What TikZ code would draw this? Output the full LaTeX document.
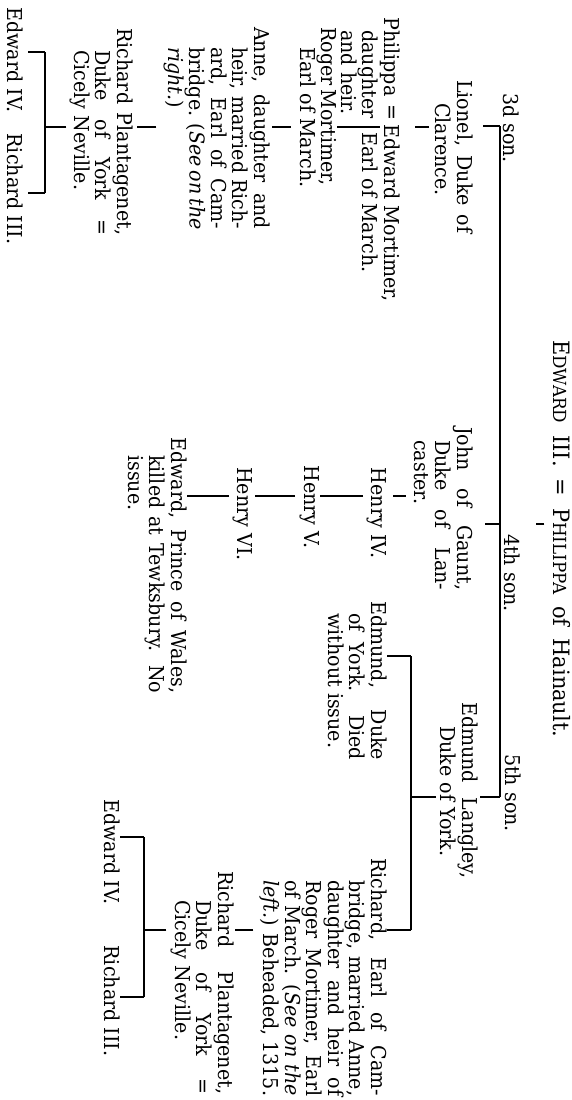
\documentclass[tikz,border=0pt]{standalone}
\usepackage{fontspec}
\setmainfont{DejaVu Serif}[FakeStretch=0.93]
\newcommand{\jline}[2]{\makebox[#1][s]{#2}}
\newcommand{\titlesc}[1]{{\fontsize{18}{18}\selectfont #1}}
\tikzset{
  tree-name/.style={rotate=-90, inner sep=0pt, font=\fontsize{20.5}{21.5}\selectfont},
  tree-block/.style={tree-name, align=left, anchor=north west},
  tree-line/.style={line width=1.1pt}
}

\begin{document}
\begin{tikzpicture}[x=1pt, y=-1pt]
  \useasboundingbox (0,0) rectangle (571,1100);

  % Edward III and his sons
  \node[tree-name, anchor=base west, font=\fontsize{22.5}{22.5}\selectfont] (title) at (553,340)
    {\jline{397pt}{E\titlesc{DWARD} III. = P\titlesc{HILIPPA} of Hainault.}};
  \node[tree-name, anchor=base] (son3) at (503,128) {3d son.};
  \node[tree-name, anchor=base] (son4) at (504,573) {4th son.};
  \node[tree-name, anchor=base] (son5) at (505,793) {5th son.};
  \coordinate (bar-l) at (500,126);
  \coordinate (bar-j) at (500,524);
  \coordinate (bar-r) at (500,797);
  \draw[tree-line] (bar-l) -- (bar-r);
  \draw[tree-line, shorten <=8pt] (title.south |- bar-j) -- ++(-16,0);

  % Lionel, Duke of Clarence
  \node[tree-block] (lionel) at (473,80) {\jline{153pt}{Lionel, Duke of}\\\hspace*{23pt}Clarence.};
  \node[tree-block] (philippa) at (400,17) {Philippa\\\hspace*{13pt}daughter\\\hspace*{13pt}and heir.};
  \node[tree-name, anchor=base] (marr) at (385,112) {=};
  \node[tree-block] (emort) at (400,124) {Edward Mortimer,\\\hspace*{8pt}Earl of March.};
  \node[tree-block] (roger) at (337,27) {\jline{158pt}{Roger Mortimer,}\\\hspace*{20pt}Earl of March.};
  \node[tree-block] (anne) at (270,27) {\jline{202pt}{Anne, daughter and}\\
    \hspace*{20pt}\jline{182pt}{heir, married Rich-}\\
    \hspace*{20pt}\jline{182pt}{ard, Earl of Cam-}\\
    \hspace*{20pt}\jline{182pt}{bridge. (\textit{See on the}}\\
    \hspace*{20pt}\textit{right.})};
  \node[tree-block] (rplant-l) at (133,28) {\jline{207pt}{Richard Plantagenet,}\\
    \hspace*{22pt}\jline{185pt}{Duke of York =}\\
    \hspace*{22pt}Cicely Neville.};
  \node[tree-name, anchor=north] (edw4-l) at (23,60) {Edward IV.};
  \node[tree-name, anchor=north] (ric3-l) at (23,189) {Richard III.};

  \coordinate (ln-l) at (0,127);
  \coordinate (kl-a) at (45,52);
  \coordinate (kl-b) at (45,193);
  \draw[tree-line, shorten >=10pt] (bar-l) -- (bar-l -| lionel.north);
  \draw[tree-line, shorten <=6pt, shorten >=15pt] (lionel.south |- ln-l) -- (philippa.north |- ln-l);
  \draw[tree-line, shorten <=5pt] (marr.south |- ln-l) -- (roger.north |- ln-l);
  \draw[tree-line, shorten <=9pt, shorten >=2pt] (roger.south |- ln-l) -- (anne.north |- ln-l);
  \draw[tree-line, shorten <=7pt, shorten >=4pt] (anne.south |- ln-l) -- (rplant-l.north |- ln-l);
  \draw[tree-line, shorten <=3pt] (rplant-l.south |- ln-l) -- (kl-a |- ln-l);
  \draw[tree-line] (kl-a) -- (kl-b);
  \draw[tree-line, shorten >=5pt] (kl-a) -- (kl-a -| edw4-l.north);
  \draw[tree-line, shorten >=5pt] (kl-b) -- (kl-b -| ric3-l.north);

  % John of Gaunt, Duke of Lancaster
  \node[tree-block] (john) at (473,427) {\jline{163pt}{John of Gaunt,}\\
    \hspace*{13pt}\jline{150pt}{Duke of Lan-}\\
    \hspace*{13pt}caster.};
  \node[tree-name, anchor=north] (henry4) at (387,513) {Henry IV.};
  \node[tree-name, anchor=north] (henry5) at (320,507) {Henry V.};
  \node[tree-name, anchor=north] (henry6) at (253,514) {Henry VI.};
  \node[tree-block] (edwp) at (187,437) {\jline{256pt}{Edward, Prince of Wales,}\\
    \hspace*{18pt}\jline{238pt}{killed at Tewksbury. No}\\
    \hspace*{18pt}issue.};

  \coordinate (ln-j) at (0,496);
  \draw[tree-line, shorten >=12pt] (bar-j) -- (bar-j -| john.north);
  \draw[tree-line, shorten <=8pt, shorten >=6pt] (john.south |- ln-j) -- (henry4.north |- ln-j);
  \draw[tree-line, shorten <=4pt] (henry4.south |- ln-j) -- (henry5.north |- ln-j);
  \draw[tree-line, shorten <=5pt, shorten >=2pt] (henry5.south |- ln-j) -- (henry6.north |- ln-j);
  \draw[tree-line, shorten <=4pt] (henry6.south |- ln-j) -- (edwp.north |- ln-j);

  % Edmund Langley, Duke of York
  \node[tree-block] (langley) at (478,702) {\jline{176pt}{Edmund Langley,}\\\hspace*{24pt}Duke of York.};
  \node[tree-block] (edmund) at (387,601) {\jline{159pt}{Edmund, Duke}\\
    \hspace*{12pt}\jline{147pt}{of York. Died}\\
    \hspace*{12pt}without issue.};
  \node[tree-block] (riche) at (387,858) {\jline{238pt}{Richard, Earl of Cam-}\\
    \hspace*{22pt}\jline{216pt}{bridge, married Anne,}\\
    \hspace*{22pt}\jline{216pt}{daughter and heir of}\\
    \hspace*{22pt}\jline{216pt}{Roger Mortimer, Earl}\\
    \hspace*{22pt}\jline{216pt}{of March. (\textit{See on the}}\\
    \hspace*{22pt}\jline{216pt}{\textit{left.}) Beheaded, 1315.}};
  \node[tree-block] (rplant-r) at (234,871) {\jline{223pt}{Richard Plantagenet,}\\
    \hspace*{29pt}\jline{194pt}{Duke of York =}\\
    \hspace*{29pt}Cicely Neville.};
  \node[tree-name, anchor=north] (edw4-r) at (120,852) {Edward IV.};
  \node[tree-name, anchor=north] (ric3-r) at (120,1001) {Richard III.};

  \coordinate (ky-a) at (411,656);
  \coordinate (ky-b) at (411,930);
  \coordinate (kr-a) at (144,837);
  \coordinate (kr-b) at (144,997);
  \draw[tree-line, shorten >=2pt] (bar-r) -- (bar-r -| langley.north);
  \draw[tree-line, shorten <=4pt] (langley.south |- bar-r) -- (ky-a |- bar-r);
  \draw[tree-line] (ky-a) -- (ky-b);
  \draw[tree-line] (ky-a) -- (ky-a -| edmund.north);
  \draw[tree-line] (ky-b) -- (ky-b -| riche.north);
  \draw[tree-line, shorten <=6pt, shorten >=1pt] (riche.south |- ky-b) -- (rplant-r.north |- ky-b);
  \draw[tree-line, shorten <=4pt] (rplant-r.south |- ky-b) -- (kr-a |- ky-b);
  \draw[tree-line] (kr-a) -- (kr-b);
  \draw[tree-line] (kr-a) -- (kr-a -| edw4-r.north);
  \draw[tree-line] (kr-b) -- (kr-b -| ric3-r.north);
\end{tikzpicture}
\end{document}
